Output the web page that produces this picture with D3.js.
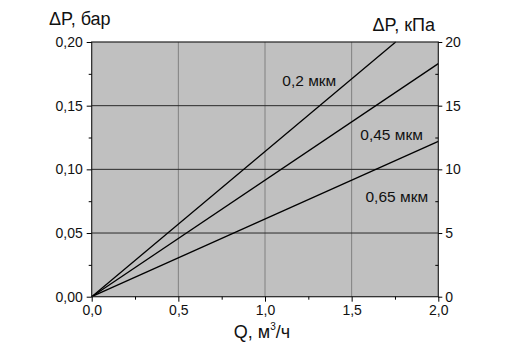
<!DOCTYPE html>
<html><head><meta charset="utf-8">
<script src="https://cdn.jsdelivr.net/npm/d3@7"></script>
<style>body{margin:0;background:#fff}svg{display:block;font-family:"Liberation Sans",Arial,sans-serif}</style>
</head><body><svg id="c" width="509" height="356"></svg>
<script>
const seriesNames = ["0,2 мкм", "0,45 мкм", "0,65 мкм"];
const seriesQ = [[0, 1.754], [0, 2.0], [0, 2.0]];
const seriesDP = [[0, 0.2], [0, 0.183], [0, 0.122]];
const labelPos = [[1.10, 0.170], [1.55, 0.127], [1.58, 0.0785]];
const xTicks = [0, 0.5, 1.0, 1.5, 2.0];
const yTicks = [0, 0.05, 0.10, 0.15, 0.20];
const yRightTicks = [0, 5, 10, 15, 20];

const svg = d3.select("#c");
const L = 91.7, R = 438.3, T = 42, B = 296.7;
const x = d3.scaleLinear().domain([0, 2]).range([L, R]);
const y = d3.scaleLinear().domain([0, 0.2]).range([B, T]);
const y2 = d3.scaleLinear().domain([0, 20]).range([B, T]);
const fmt = (d, n) => d.toFixed(n).replace(".", ",");

svg.append("rect").attr("x", L).attr("y", T).attr("width", R - L).attr("height", B - T).attr("fill", "#c0c0c0");
// grid
svg.append("g").selectAll("line").data(xTicks.slice(1, -1)).join("line")
  .attr("x1", d => x(d)).attr("x2", d => x(d)).attr("y1", T).attr("y2", B)
  .attr("stroke", "#808080").attr("stroke-width", 1);
svg.append("g").selectAll("line").data(yTicks.slice(1, -1)).join("line")
  .attr("x1", L).attr("x2", R).attr("y1", d => y(d)).attr("y2", d => y(d))
  .attr("stroke", "#2a2a2a").attr("stroke-width", 1);

// lines
const line = d3.line().x(d => x(d[0])).y(d => y(d[1]));
seriesNames.forEach((n, i) => {
  const pts = seriesQ[i].map((q, j) => [q, seriesDP[i][j]]);
  svg.append("path").attr("d", line(pts)).attr("fill", "none").attr("stroke", "#000").attr("stroke-width", 1.3);
  svg.append("text").attr("x", x(labelPos[i][0])).attr("y", y(labelPos[i][1])).attr("dy", "0.35em")
    .attr("font-size", 15.5).attr("fill", "#111").text(n);
});

// frame
svg.append("rect").attr("x", L).attr("y", T).attr("width", R - L).attr("height", B - T)
  .attr("fill", "none").attr("stroke", "#222").attr("stroke-width", 1.2);

// axes
const ax = d3.axisBottom(x).tickValues(xTicks).tickSize(5).tickFormat(d => fmt(d, 1));
const gx = svg.append("g").attr("transform", `translate(0,${B})`).call(ax);
gx.select(".domain").remove();
gx.selectAll(".tick text").attr("font-size", 14).attr("fill", "#111").attr("dy", "0.75em");
svg.append("g").attr("transform", `translate(0,${B})`)
  .call(d3.axisBottom(x).tickValues([0.25, 0.75, 1.25, 1.75]).tickSize(3).tickFormat(""))
  .select(".domain").remove();

const ayl = svg.append("g").attr("transform", `translate(${L},0)`)
  .call(d3.axisLeft(y).tickValues(yTicks).tickSize(5).tickFormat(d => fmt(d, 2)));
ayl.select(".domain").remove();
ayl.selectAll(".tick text").attr("font-size", 14).attr("fill", "#111").attr("x", -9);
svg.append("g").attr("transform", `translate(${L},0)`)
  .call(d3.axisLeft(y).tickValues([0.025, 0.075, 0.125, 0.175]).tickSize(3).tickFormat(""))
  .select(".domain").remove();

const ayr = svg.append("g").attr("transform", `translate(${R},0)`)
  .call(d3.axisRight(y2).tickValues(yRightTicks).tickSize(4).tickFormat(d => d));
ayr.select(".domain").remove();
ayr.selectAll(".tick text").attr("font-size", 14).attr("fill", "#111");
svg.append("g").attr("transform", `translate(${R},0)`)
  .call(d3.axisLeft(y2).tickValues([2.5, 7.5, 12.5, 17.5]).tickSize(3).tickFormat(""))
  .select(".domain").remove();

// titles
svg.append("text").attr("x", 49).attr("y", 25).attr("font-size", 18).attr("fill", "#111").text("ΔP, бар");
svg.append("text").attr("x", 435).attr("y", 31).attr("text-anchor", "end").attr("font-size", 18).attr("fill", "#111").text("ΔP, кПа");
const xt = svg.append("text").attr("x", 262).attr("y", 338).attr("text-anchor", "middle").attr("font-size", 18).attr("fill", "#111");
xt.append("tspan").text("Q, м");
xt.append("tspan").attr("font-size", 10).attr("dy", -8).text("3");
xt.append("tspan").attr("dy", 8).text("/ч");
</script></body></html>
